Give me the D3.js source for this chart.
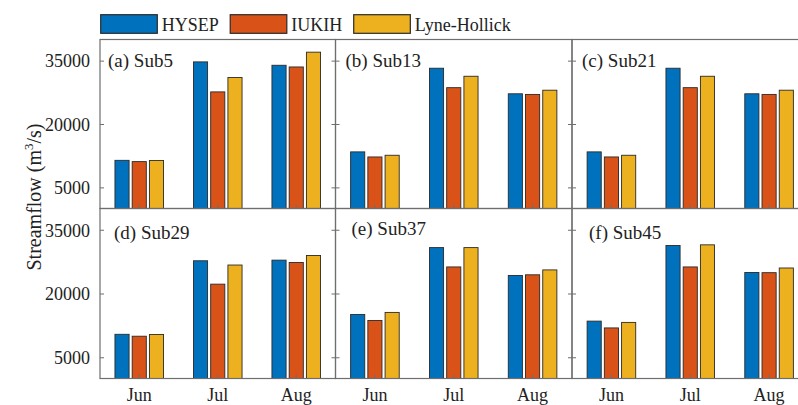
<!DOCTYPE html>
<html><head><meta charset="utf-8">
<script src="https://cdn.jsdelivr.net/npm/d3@7"></script>
<style>
html,body{margin:0;padding:0;background:#fff;}
svg text{font-family:"Liberation Serif","Times New Roman",Times,"DejaVu Serif",serif !important;fill:#222;}
</style></head>
<body><svg id="c" width="798" height="405" font-family="Liberation Serif, serif"></svg>
<script>
// ---- data ----
const months = ["Jun", "Jul", "Aug"];
const series = ["HYSEP", "IUKIH", "Lyne-Hollick"];
const panels = ["(a) Sub5", "(b) Sub13", "(c) Sub21", "(d) Sub29", "(e) Sub37", "(f) Sub45"];
const yTicks = [5000, 20000, 35000];
// values[panel][series][month]
const sub5  = [[11400, 34700, 33900], [11100, 27600, 33500], [11350, 31000, 37000]];
const sub13 = [[13400, 33200, 27150], [12200, 28600, 27000], [12600, 31300, 28000]];
const sub21 = [[13400, 33200, 27150], [12200, 28600, 27000], [12600, 31300, 28000]];
const sub29 = [[10400, 27700, 27850], [9950, 22200, 27300], [10350, 26700, 28950]];
const sub37 = [[15050, 30800, 24250], [13650, 26250, 24400], [15550, 30800, 25550]];
const sub45 = [[13500, 31300, 24950], [11900, 26250, 24900], [13200, 31450, 26000]];
const panelValues = [sub5, sub13, sub21, sub29, sub37, sub45];

// ---- layout ----
const colors = ["#0072BD", "#D95319", "#EDB120"];
const colX = [100, 335.5, 572, 808.5];
const rowY = [39.5, 208.5, 378.5];
const labelDx = [8, 10, 10, 14, 16, 17];
const labelY = [67, 67, 67, 239, 235, 239];
const FONT = 18;
const SERIF = '"Liberation Serif", "Times New Roman", Times, serif';

const svg = d3.select("#c");
const gAll = svg.append("g");

panels.forEach((name, p) => {
  const r = Math.floor(p / 3), c = p % 3;
  const x0 = colX[c], x1 = colX[c + 1], y0 = rowY[r], y1 = rowY[r + 1];
  const g = gAll.append("g");
  const x = d3.scaleBand().domain(months).range([x0, x1]).padding(0);
  const y = d3.scaleLinear().domain([0, 40000]).range([y1, y0]);
  const half = 24.3;
  const xs = d3.scaleBand().domain(series).range([-half, half]).paddingInner(0.18).paddingOuter(0);

  series.forEach((s, si) => {
    g.selectAll(null).data(months).enter().append("rect")
      .attr("x", m => x(m) + x.bandwidth() / 2 + xs(s))
      .attr("width", xs.bandwidth())
      .attr("y", (m, mi) => y(panelValues[p][si][mi]))
      .attr("height", (m, mi) => y(0) - y(panelValues[p][si][mi]))
      .attr("fill", colors[si])
      .attr("stroke", "#2a2a2a")
      .attr("stroke-width", 0.9);
  });

  g.append("rect").attr("x", x0).attr("y", y0).attr("width", x1 - x0).attr("height", y1 - y0)
    .attr("fill", "none").attr("stroke", "#6e6e6e").attr("stroke-width", 1.2);

  const yaxL = d3.axisLeft(y).tickValues(yTicks).tickSizeInner(-4).tickSizeOuter(0)
    .tickFormat(c === 0 ? d3.format("d") : () => "");
  const gl = g.append("g").attr("transform", `translate(${x0},0)`).call(yaxL);
  gl.attr("font-family", SERIF);
  gl.select(".domain").remove();
  gl.selectAll("line").attr("stroke", "#6e6e6e");
  gl.selectAll("text").attr("x", -10).attr("dy", "0.35em").style("font-size", FONT + "px")
    .attr("fill", "#222").style("font-family", SERIF);
  const yaxR = d3.axisRight(y).tickValues(yTicks).tickSizeInner(-4).tickSizeOuter(0).tickFormat(() => "");
  const gr = g.append("g").attr("transform", `translate(${x1},0)`).call(yaxR);
  gr.select(".domain").remove();
  gr.selectAll("line").attr("stroke", "#6e6e6e");

  const xax = d3.axisBottom(x).tickSizeInner(-4).tickSizeOuter(0)
    .tickFormat(r === 1 ? (d => d) : () => "");
  const gx = g.append("g").attr("transform", `translate(0,${y1})`).call(xax);
  gx.attr("font-family", SERIF);
  gx.select(".domain").remove();
  gx.selectAll("line").attr("stroke", "#6e6e6e");
  gx.selectAll("text").attr("y", 10).attr("dy", "0.71em").style("font-size", FONT + "px")
    .attr("fill", "#222").style("font-family", SERIF);

  g.append("text").attr("x", x0 + labelDx[p]).attr("y", labelY[p])
    .style("font-size", "19px").style("font-family", SERIF).text(name);
});

const yt = svg.append("text").attr("transform", "translate(41,197) rotate(-90)")
  .attr("text-anchor", "middle").style("font-size", "20px").style("font-family", SERIF);
yt.append("tspan").text("Streamflow (m");
yt.append("tspan").attr("dy", -8).style("font-size", "13px").text("3");
yt.append("tspan").attr("dy", 8).text("/s)");

const leg = svg.append("g");
let lx = 100.7;
series.forEach((s, i) => {
  leg.append("rect").attr("x", lx).attr("y", 14.7).attr("width", 56.6).attr("height", 18.6)
    .attr("fill", colors[i]).attr("stroke", "#2a2a2a").attr("stroke-width", 1.2);
  const t = leg.append("text").attr("x", lx + 61).attr("y", 30.5)
    .style("font-size", FONT + "px").style("font-family", SERIF).text(s);
  lx = lx + 61 + t.node().getComputedTextLength() + 11.5;
});
</script></body></html>
